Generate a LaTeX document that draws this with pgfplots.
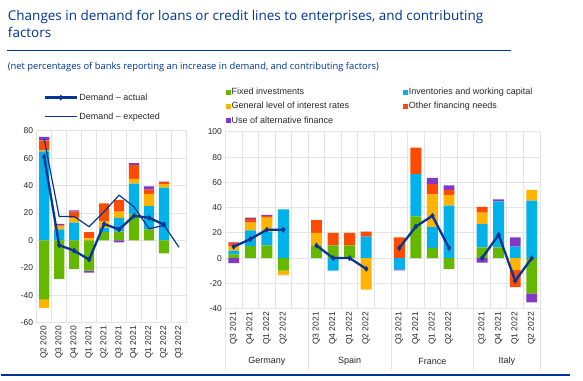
\documentclass[border=0pt]{standalone}
\usepackage{pgfplots}
\pgfplotsset{compat=1.18}
\usepackage{pgfplotstable}
\usepackage{fontspec}
\setmainfont{Liberation Sans}
\newfontfamily\titlefont{Open Sans}
\definecolor{ecbblue}{RGB}{0,50,153}
\definecolor{lineblue}{RGB}{8,52,148}
\definecolor{cgreen}{RGB}{101,184,0}
\definecolor{ccyan}{RGB}{0,177,234}
\definecolor{cyellow}{RGB}{255,180,0}
\definecolor{cred}{RGB}{255,75,0}
\definecolor{cpurple}{RGB}{129,57,198}
\definecolor{gridgray}{RGB}{228,228,228}
\definecolor{txtgray}{RGB}{40,40,40}

% euro area: positive components
\pgfplotstableread{
x g c y r p
0 0 65 1 7 2.5
1 0 8 2.5 0.5 1
2 0 13 3 5 1
3 0 0 1.5 4.5 0
4 6 3 5 13 0
5 6.5 10 4.5 8.5 0
6 19 22.5 3.5 10 1.5
7 8 17 9 3 2.5
8 0 38.5 2.5 1.5 0.5
}\leftpos
\pgfplotstableread{
x g c y r p
0 -43 0 -6 0 0
1 -28 0 0 0 0
2 -21 0 0 0 0
3 -22 0 0 0 -1.5
5 0 0 0 0 -1.5
8 -9.5 0 0 0 0
}\leftneg
% countries: Germany 0-3, Spain 5-8, France 10-13, Italy 15-18
\pgfplotstableread{
x g c y r p
0 3 3 3.5 2.5 0.5
1 9.5 12.5 6 3 1
2 10 11 11 1.5 0.8
3 0 38.5 0 0 0
5 10 0 10 10 0
6 10 0 0 10 0
7 10 0 0 10 0
8 0 17 0 3.5 0.5
10 0 0 0 16.5 0
11 33 33.5 0 21 0
12 8 16.5 26 8 5
13 0 41.5 8.5 4 3.5
15 8.5 18.5 9 4.5 0
16 8.5 36.5 0 0 1.5
17 0 9 0 0 7.5
18 0 45.5 8.5 0 0
}\rightpos
\pgfplotstableread{
x g c y r p
0 0 0 0 0 -4
3 -10 0 -3 -0.5 0
6 0 -10 0 0 0
8 0 0 -25 0 0
10 0 -9 0 0 -0.7
13 -8.5 0 0 0 0
15 0 0 0 0 -3.5
17 0 0 -9.5 -13.5 0
18 -28 0 0 0 -7
}\rightneg

\pgfplotsset{
  every axis/.append style={
    scale only axis,
    font=\fontsize{9}{10}\selectfont,
    tick label style={font=\fontsize{8.5}{10}\selectfont, text=txtgray},
    /pgf/number format/assume math mode=true,
    major tick length=0pt, minor tick length=0pt,
    grid style={gridgray, line width=1pt},
    minor grid style={gridgray, line width=1pt},
    axis line style={draw=none},
  },
  leftax/.style={at={(36pt,58pt)}, anchor=south west, width=150pt, height=192pt,
    xmin=-0.5, xmax=9.5, ymin=-60, ymax=80},
  rightax/.style={at={(225pt,72pt)}, anchor=south west, width=315pt, height=177pt,
    xmin=-0.5, xmax=18.5, ymin=-40, ymax=100},
  seg/.style={draw=none, fill=#1},
  actual/.style={lineblue, line width=2.3pt, mark=diamond*, mark size=2.6pt, mark options={line width=0.4pt}},
}

\begin{document}
\begin{tikzpicture}
\path (0pt,0pt) rectangle (583pt,381pt);
% titles
\node[anchor=base west, inner sep=0pt, text=ecbblue, font=\titlefont\fontsize{13.5}{16}\selectfont] at (7pt,360pt) {Changes in demand for loans or credit lines to enterprises, and contributing};
\node[anchor=base west, inner sep=0pt, text=ecbblue, font=\titlefont\fontsize{13.5}{16}\selectfont] at (7pt,343pt) {factors};
\draw[ecbblue, line width=1pt] (6pt,330pt) -- (511pt,330pt);
\node[anchor=base west, inner sep=0pt, text=ecbblue, font=\titlefont\fontsize{9.4}{11}\selectfont] at (7pt,311pt) {(net percentages of banks reporting an increase in demand, and contributing factors)};
\draw[ecbblue, line width=1.5pt] (0pt,5.5pt) -- (570pt,5.5pt);

% ===== left panel: euro area =====
\begin{axis}[leftax, ybar stacked, bar width=0.68,
  ytick={-60,-40,...,80}, ymajorgrids,
  xtick={0,...,9},
  xticklabels={Q2 2020,Q3 2020,Q4 2020,Q1 2021,Q2 2021,Q3 2021,Q4 2021,Q1 2022,Q2 2022,Q3 2022},
  x tick label style={rotate=90, anchor=east},
  minor xtick={-0.5,0.5,...,9.5}, xminorgrids]
\addplot[seg=cgreen] table[x=x,y=g]{\leftpos};
\addplot[seg=ccyan] table[x=x,y=c]{\leftpos};
\addplot[seg=cyellow] table[x=x,y=y]{\leftpos};
\addplot[seg=cred] table[x=x,y=r]{\leftpos};
\addplot[seg=cpurple] table[x=x,y=p]{\leftpos};
\end{axis}
\begin{axis}[leftax, hide axis, ybar stacked, bar width=0.68]
\addplot[seg=cgreen] table[x=x,y=g]{\leftneg};
\addplot[seg=ccyan] table[x=x,y=c]{\leftneg};
\addplot[seg=cyellow] table[x=x,y=y]{\leftneg};
\addplot[seg=cred] table[x=x,y=r]{\leftneg};
\addplot[seg=cpurple] table[x=x,y=p]{\leftneg};
\end{axis}
\begin{axis}[leftax, hide axis,
  legend style={at={(axis description cs:0.045,1.203)}, anchor=north west, draw=none, fill=none,
    inner sep=0pt, row sep=8pt, nodes={inner sep=1.5pt, text=txtgray}, font=\fontsize{9}{10}\selectfont},
  legend cell align=left,
  legend image code/.code={\draw[mark repeat=2,mark phase=2,#1] plot coordinates {(0pt,0pt) (16pt,0pt) (32pt,0pt)};}]
\addplot[actual]
  coordinates {(0,61) (1,-3.5) (2,-7.5) (3,-14) (4,12) (5,8) (6,18) (7,16.5) (8,11.5)};
\addlegendentry{Demand -- actual}
\addplot[lineblue, line width=1.2pt]
  coordinates {(0,74) (1,17.5) (2,17.5) (3,10) (4,21) (5,33) (6,24.5) (7,8.5) (8,11) (9,-5)};
\addlegendentry{Demand -- expected}
\end{axis}

% ===== right panel: countries =====
\begin{axis}[rightax, ybar stacked, bar width=0.66, clip=false,
  ytick={-40,-20,...,100}, ymajorgrids,
  xtick={0,1,2,3,5,6,7,8,10,11,12,13,15,16,17,18},
  xticklabels={Q3 2021,Q4 2021,Q1 2022,Q2 2022,Q3 2021,Q4 2021,Q1 2022,Q2 2022,Q3 2021,Q4 2021,Q1 2022,Q2 2022,Q3 2021,Q4 2021,Q1 2022,Q2 2022},
  x tick label style={rotate=90, anchor=east},
  minor xtick={-0.5,0.5,...,18.5}, xminorgrids,
  legend columns=2,
  legend style={at={(axis description cs:0.0,1.252)}, anchor=north west, draw=none, fill=none,
    inner sep=0pt, row sep=4pt, nodes={inner sep=1pt, text=txtgray}, font=\fontsize{9}{10}\selectfont,
    /tikz/every even column/.append style={column sep=53pt}},
  legend cell align=left,
  legend image code/.code={\fill[#1] (0pt,-2.5pt) rectangle (5pt,2.5pt);}]
\addplot[seg=cgreen] table[x=x,y=g]{\rightpos};
\addlegendentry{Fixed investments}
\addplot[seg=ccyan] table[x=x,y=c]{\rightpos};
\addlegendentry{Inventories and working capital}
\addplot[seg=cyellow] table[x=x,y=y]{\rightpos};
\addlegendentry{General level of interest rates}
\addplot[seg=cred] table[x=x,y=r]{\rightpos};
\addlegendentry{Other financing needs}
\addplot[seg=cpurple] table[x=x,y=p]{\rightpos};
\addlegendentry{Use of alternative finance}
\draw[gridgray, line width=1pt] (axis cs:-0.5,-40) -- ++(0pt,-61pt);
\draw[gridgray, line width=1pt] (axis cs:4.5,-40) -- ++(0pt,-61pt);
\draw[gridgray, line width=1pt] (axis cs:9.5,-40) -- ++(0pt,-61pt);
\draw[gridgray, line width=1pt] (axis cs:14.5,-40) -- ++(0pt,-61pt);
\draw[gridgray, line width=1pt] (axis cs:18.5,-40) -- ++(0pt,-61pt);
\node[text=txtgray] at (axis cs:2,-40) [yshift=-53pt] {Germany};
\node[text=txtgray] at (axis cs:7,-40) [yshift=-53pt] {Spain};
\node[text=txtgray] at (axis cs:12,-40) [yshift=-53pt] {France};
\node[text=txtgray] at (axis cs:16.5,-40) [yshift=-53pt] {Italy};
\end{axis}
\begin{axis}[rightax, hide axis, ybar stacked, bar width=0.66]
\addplot[seg=cgreen] table[x=x,y=g]{\rightneg};
\addplot[seg=ccyan] table[x=x,y=c]{\rightneg};
\addplot[seg=cyellow] table[x=x,y=y]{\rightneg};
\addplot[seg=cred] table[x=x,y=r]{\rightneg};
\addplot[seg=cpurple] table[x=x,y=p]{\rightneg};
\end{axis}
\begin{axis}[rightax, hide axis]
\addplot[actual] coordinates {(0,9) (1,15) (2,22.5) (3,22.5)};
\addplot[actual] coordinates {(5,10) (6,0) (7,0) (8,-8.5)};
\addplot[actual] coordinates {(10,8) (11,25) (12,33.5) (13,8)};
\addplot[actual] coordinates {(15,0) (16,18.5) (17,-18) (18,0)};
\end{axis}
\end{tikzpicture}
\end{document}
